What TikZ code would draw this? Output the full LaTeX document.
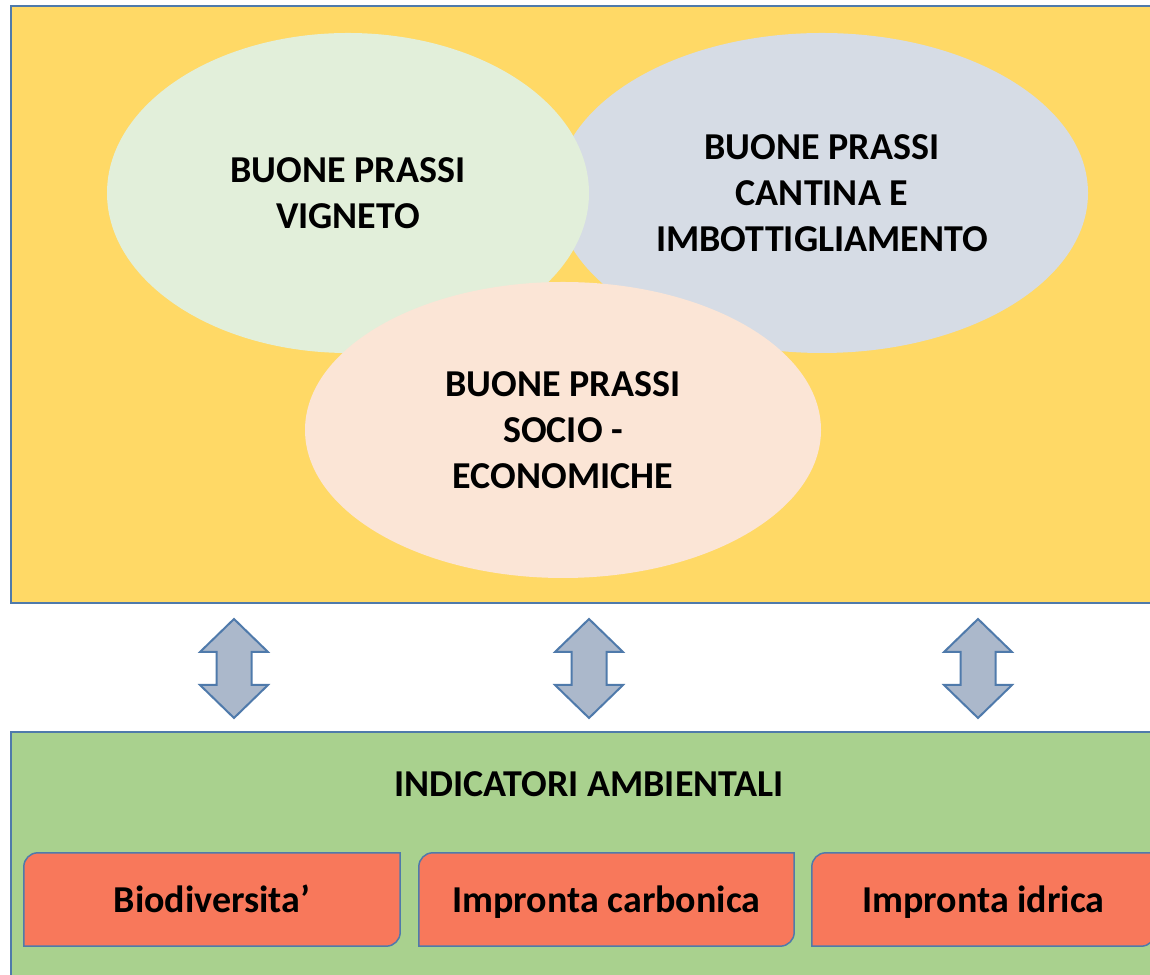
\documentclass[tikz,border=0pt]{standalone}
\usepackage{fontspec}
\setmainfont{Carlito}
\usepackage{xcolor}
\usepackage{tikz}
\usetikzlibrary{shapes.geometric}

\definecolor{frameblue}{HTML}{4F7AAB}
\definecolor{goldpanel}{HTML}{FFD966}
\definecolor{greenpanel}{HTML}{A9D18E}
\definecolor{vignetofill}{HTML}{E2EFDA}
\definecolor{cantinafill}{HTML}{D6DCE5}
\definecolor{sociofill}{HTML}{FBE5D6}
\definecolor{indfill}{HTML}{F8785B}
\definecolor{arrowfill}{HTML}{ABB8CB}

\tikzset{
  lbl/.style={font=\bfseries\fontsize{38}{46}\selectfont, align=center, inner sep=0pt},
  bubble/.style={ellipse, inner sep=0pt, lbl},
  panel/.style={draw=frameblue, line width=2.5pt},
  updown/.style={draw=frameblue, fill=arrowfill, line width=2pt, line join=miter},
  indbox/.style={draw=frameblue, fill=indfill, line width=1.5pt}
}

\begin{document}
\begin{tikzpicture}[x=1pt,y=1pt]
	\clip (0,0) rectangle (1150,974);
	% pannelli
	\draw[panel, fill=goldpanel] (11,371) rectangle (1170,968);
	\draw[panel, fill=greenpanel] (11,-10) rectangle (1170,242);
	% buone prassi
	\node[bubble, fill=cantinafill, minimum width=532, minimum height=320] (cantina) at (822,781) {BUONE PRASSI\\CANTINA E\\IMBOTTIGLIAMENTO};
	\node[bubble, fill=vignetofill, minimum width=482, minimum height=320] (vigneto) at (348,781) {BUONE PRASSI\\VIGNETO};
	\node[bubble, fill=sociofill, minimum width=516, minimum height=296] (socio) at (563,544) {BUONE PRASSI\\SOCIO -\\ECONOMICHE};
	% frecce
	\foreach \x/\n in {234/frA, 589/frB, 978/frC}{
		\coordinate (\n) at (\x,355);
		\draw[updown] (\n) -- ++(34,-33) -- ++(-16.5,0) -- ++(0,-33) -- ++(16.5,0) -- ++(-34,-33)
			-- ++(-34,33) -- ++(16.5,0) -- ++(0,33) -- ++(-16.5,0) -- cycle;
	}
	% indicatori
	\node[lbl, anchor=base] (ind) at (589,177) {INDICATORI AMBIENTALI};
	\foreach \n/\x/\w/\t in {bio/212/376/{Biodiversita'}, carb/606.5/375/{Impronta carbonica}, idr/983.5/343/{Impronta idrica}}{
		\node[inner sep=0pt, minimum width=\w, minimum height=93] (\n) at (\x,74.5) {};
		\draw[indbox] (\n.south west) -- ([yshift=-14pt]\n.north west) arc[start angle=180, end angle=90, radius=14pt]
			-- (\n.north east) -- ([yshift=14pt]\n.south east) arc[start angle=0, end angle=-90, radius=14pt] -- cycle;
		\node[lbl, anchor=base] (\n-txt) at ([yshift=-12.5pt]\n.center) {\t};
	}
\end{tikzpicture}
\end{document}
